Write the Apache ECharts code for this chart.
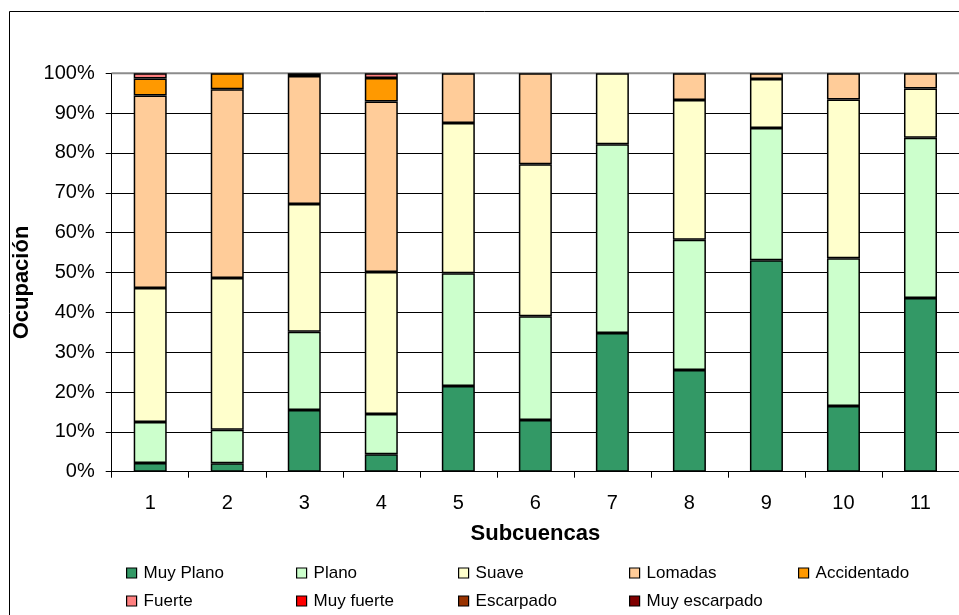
<!DOCTYPE html>
<html>
<head>
<meta charset="utf-8">
<script src="https://cdn.jsdelivr.net/npm/echarts@6/dist/echarts.min.js"></script>
<style>
  html, body { margin: 0; padding: 0; background: #fff; }
  #chart { width: 959px; height: 615px; }
</style>
</head>
<body>
<div id="chart"></div>
<script>
// Subcuencas (categorías del eje X)
const subcuencas = ['1', '2', '3', '4', '5', '6', '7', '8', '9', '10', '11'];

// Porcentaje de ocupación por clase de pendiente
const muyPlano     = [2.2, 2.1, 15.5, 4.4, 21.5, 13.0, 34.8, 25.5, 53.1, 16.5, 43.6];
const plano        = [10.3, 8.4, 19.6, 10.1, 28.3, 26.0, 47.4, 32.7, 33.2, 37.1, 40.2];
const suave        = [33.6, 38.1, 32.1, 35.6, 37.7, 38.2, 17.8, 35.1, 12.3, 39.8, 12.4];
const lomadas      = [48.3, 47.4, 32.1, 42.8, 12.5, 22.8, 0, 6.7, 1.4, 6.6, 3.8];
const accidentado  = [4.3, 4.0, 0.7, 5.9, 0, 0, 0, 0, 0, 0, 0];
const fuerte       = [1.3, 0, 0, 1.2, 0, 0, 0, 0, 0, 0, 0];
const muyFuerte    = [0, 0, 0, 0, 0, 0, 0, 0, 0, 0, 0];
const escarpado    = [0, 0, 0, 0, 0, 0, 0, 0, 0, 0, 0];
const muyEscarpado = [0, 0, 0, 0, 0, 0, 0, 0, 0, 0, 0];

const seriesDefs = [
  { name: 'Muy Plano',     data: muyPlano,     color: '#339966' },
  { name: 'Plano',         data: plano,        color: '#CCFFCC' },
  { name: 'Suave',         data: suave,        color: '#FFFFCC' },
  { name: 'Lomadas',       data: lomadas,      color: '#FFCC99' },
  { name: 'Accidentado',   data: accidentado,  color: '#FF9900' },
  { name: 'Fuerte',        data: fuerte,       color: '#FF8080' },
  { name: 'Muy fuerte',    data: muyFuerte,    color: '#FF0000' },
  { name: 'Escarpado',     data: escarpado,    color: '#993300' },
  { name: 'Muy escarpado', data: muyEscarpado, color: '#800000' }
];

// Posiciones de la leyenda (dos filas, cinco columnas)
const legendCols = [126, 296, 458, 629, 798];
const legendRows = [564.5, 592.5];

const FONT = '"Liberation Sans", Arial, sans-serif';

const legends = seriesDefs.map((s, i) => ({
  data: [s.name],
  left: legendCols[i % 5],
  top: legendRows[Math.floor(i / 5)],
  padding: 0,
  itemWidth: 10,
  itemHeight: 10,
  icon: 'rect',
  selectedMode: false,
  itemStyle: { borderColor: '#000', borderWidth: 1.2 },
  textStyle: { fontFamily: FONT, fontSize: 17, color: '#000', padding: [0, 0, 0, 2] }
}));

const chart = echarts.init(document.getElementById('chart'), null, { renderer: 'canvas' });

chart.setOption({
  animation: false,
  backgroundColor: '#fff',
  textStyle: { fontFamily: FONT },
  legend: legends,
  grid: { left: 111.7, top: 73.3, right: -16, bottom: 143.3, containLabel: false },
  xAxis: {
    type: 'category',
    data: subcuencas,
    name: 'Subcuencas',
    nameLocation: 'middle',
    nameGap: 51,
    nameTextStyle: { fontFamily: FONT, fontSize: 22, fontWeight: 'bold', color: '#000' },
    axisLine: { lineStyle: { color: '#000', width: 1 } },
    axisTick: { show: true, length: 6, inside: false, lineStyle: { color: '#000' } },
    axisLabel: { fontFamily: FONT, fontSize: 20, color: '#000', margin: 22 },
    splitLine: { show: false }
  },
  yAxis: {
    type: 'value',
    min: 0,
    max: 100,
    interval: 10,
    name: 'Ocupación',
    nameLocation: 'middle',
    nameGap: 70,
    nameTextStyle: { fontFamily: FONT, fontSize: 22, fontWeight: 'bold', color: '#000', padding: [0, 20, 0, 0] },
    axisLine: { show: true, lineStyle: { color: '#000', width: 1 } },
    axisTick: { show: true, length: 6, lineStyle: { color: '#000' } },
    axisLabel: { fontFamily: FONT, fontSize: 20, color: '#000', margin: 17, formatter: '{value}%' },
    splitLine: { show: true, lineStyle: { color: '#000', width: 1 } }
  },
  graphic: [
    {
      type: 'rect',
      shape: { x: 9.5, y: 11.5, width: 1000, height: 700 },
      style: { fill: 'none', stroke: '#000', lineWidth: 1 },
      silent: true
    },
    {
      type: 'line',
      shape: { x1: 111.7, y1: 73.3, x2: 975, y2: 73.3 },
      style: { stroke: '#8c8c8c', lineWidth: 2 },
      z: 1,
      silent: true
    }
  ],
  series: seriesDefs.map(s => ({
    name: s.name,
    type: 'bar',
    stack: 'total',
    // clases sin superficie no se dibujan
    data: s.data.map(v => (v > 0 ? v : '-')),
    barWidth: 33,
    itemStyle: { color: s.color, borderColor: '#000', borderWidth: 1.5 },
    emphasis: { disabled: true }
  }))
});
</script>
</body>
</html>
